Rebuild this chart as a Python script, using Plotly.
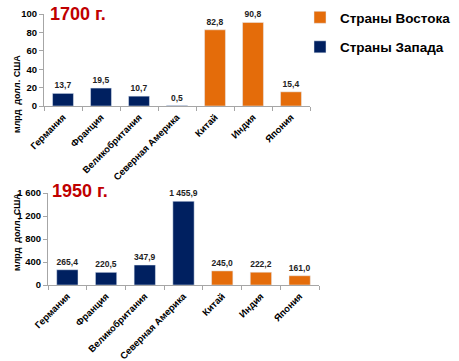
import plotly.graph_objects as go

categories = ["Германия", "Франция", "Великобритания", "Северная Америка", "Китай", "Индия", "Япония"]
west_cats = categories[:4]
east_cats = categories[4:]
west_1700 = [13.7, 19.5, 10.7, 0.5]
east_1700 = [82.8, 90.8, 15.4]
west_1950 = [265.4, 220.5, 347.9, 1455.9]
east_1950 = [245.0, 222.2, 161.0]
ticks_1700 = [0, 20, 40, 60, 80, 100]
ticks_1950 = [0, 400, 800, 1200, 1600]
ticktext_1950 = ["0", "400", "800", "1 200", "1 600"]

ORANGE = "#E46C0A"
NAVY = "#002060"
W, H = 459, 361

def fmt(v):
    return f"{v:,.1f}".replace(",", " ").replace(".", ",")

fig = go.Figure()
lab_font = dict(family="Liberation Sans", size=8.5, color="#222222")

def bar(xs, ys, name, color, xa, ya, show, group):
    return go.Bar(x=xs, y=ys, name=f"<b>{name}</b>", marker_color=color,
                  text=[fmt(v) for v in ys], texttemplate="<b>%{text}</b>",
                  textposition="outside", textfont=lab_font, constraintext="none",
                  cliponaxis=False, width=0.55, xaxis=xa, yaxis=ya,
                  showlegend=show, legendgroup=group)

fig.add_trace(bar(east_cats, east_1700, "Страны Востока", ORANGE, "x", "y", True, "east"))
fig.add_trace(bar(west_cats, west_1700, "Страны Запада", NAVY, "x", "y", True, "west"))
fig.add_trace(bar(west_cats, west_1950, "Страны Запада", NAVY, "x2", "y2", False, "west"))
fig.add_trace(bar(east_cats, east_1950, "Страны Востока", ORANGE, "x2", "y2", False, "east"))

tick_font = dict(family="Liberation Sans", size=9.5, color="#000000")
xcommon = dict(type="category", categoryorder="array", categoryarray=categories,
               tickvals=categories, ticktext=[f"<b>{c}</b>" for c in categories],
               range=[-0.5, 6.5], tickangle=-45, tickfont=tick_font, showline=True,
               linecolor="#A6A6A6", linewidth=1, ticks="outside", tickson="boundaries",
               ticklen=4, tickcolor="#A6A6A6", showgrid=False, zeroline=False, automargin=False,
               ticklabelstandoff=1)
ycommon = dict(tickfont=dict(family="Liberation Sans", size=9.5, color="#000"), showline=True,
               linecolor="#A6A6A6", linewidth=1, ticks="outside", ticklen=4, tickcolor="#A6A6A6",
               showgrid=False, zeroline=False, automargin=False)

ytitle_font = dict(family="Liberation Sans", size=9, color="#000")

fig.update_layout(
    width=W, height=H, margin=dict(l=0, r=0, t=0, b=0, autoexpand=False),
    paper_bgcolor="white", plot_bgcolor="white", barmode="overlay",
    font=dict(family="Liberation Sans"),
    xaxis=dict(domain=[44/W, 310/W], anchor="y", **xcommon),
    yaxis=dict(domain=[1-106/H, 1-14/H], anchor="x", range=[0, 100], tickvals=ticks_1700,
               ticktext=[f"<b>{t}</b>" for t in ticks_1700], **ycommon),
    xaxis2=dict(domain=[48/W, 319/W], anchor="y2", **xcommon),
    yaxis2=dict(domain=[1-285/H, 1-193/H], anchor="x2", range=[0, 1600], tickvals=ticks_1950,
                ticktext=[f"<b>{t}</b>" for t in ticktext_1950], **ycommon),
    legend=dict(x=300/W, y=1-2/H, xanchor="left", yanchor="top", tracegroupgap=9,
                font=dict(family="Liberation Sans", size=13.5, color="#000"), itemwidth=30,
                bgcolor="rgba(0,0,0,0)"),
    annotations=[
        dict(text="<b>1700 г.</b>", x=48/W, y=1-14/H, xref="paper", yref="paper", xanchor="left",
             yanchor="middle", showarrow=False, font=dict(family="Liberation Sans", size=18, color="#C00000")),
        dict(text="<b>1950 г.</b>", x=50/W, y=1-191/H, xref="paper", yref="paper", xanchor="left",
             yanchor="middle", showarrow=False, font=dict(family="Liberation Sans", size=18, color="#C00000")),
        dict(text="<b>млрд  долл. США</b>", x=10/W, y=1-53/H, xref="paper", yref="paper",
             textangle=-90, showarrow=False, font=ytitle_font),
        dict(text="<b>млрд  долл. США</b>", x=10/W, y=1-232/H, xref="paper", yref="paper",
             textangle=-90, showarrow=False, font=ytitle_font),
    ],
)
fig.write_html("out.html", config={"displayModeBar": False},
               post_script="document.body.style.margin='0';document.body.style.padding='0';")
